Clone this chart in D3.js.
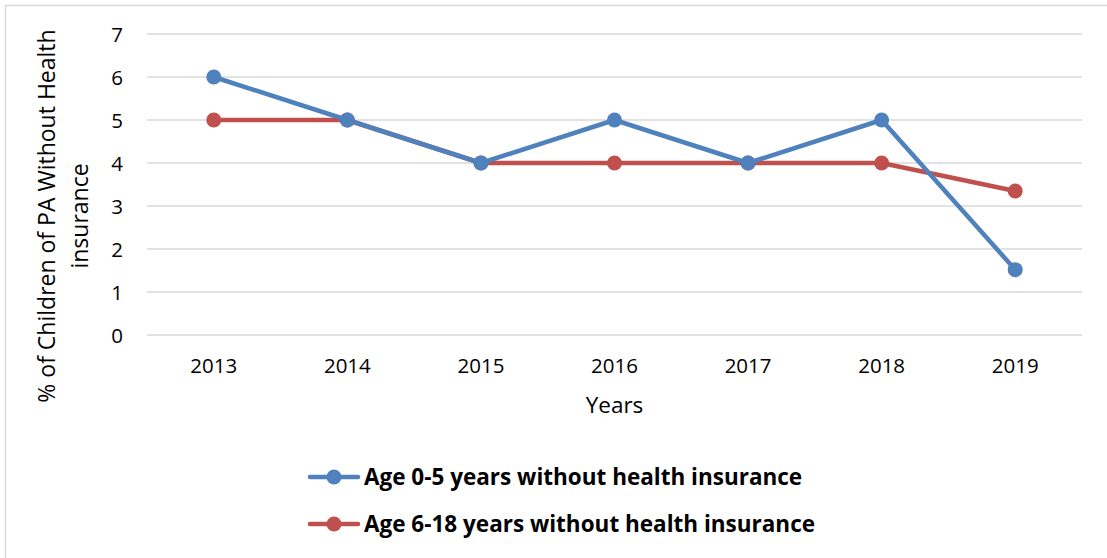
<!DOCTYPE html>
<html>
<head>
<meta charset="utf-8">
<script src="https://cdn.jsdelivr.net/npm/d3@7"></script>
<style>
  html, body { margin: 0; padding: 0; background: #fff; }
  svg { display: block; }
  text { font-family: "Open Sans", Lato, "Liberation Sans", sans-serif; fill: #000; }
</style>
</head>
<body>
<svg id="chart" width="1107" height="558"></svg>
<script>
// Uninsured children in Pennsylvania, by age group
const years = ["2013", "2014", "2015", "2016", "2017", "2018", "2019"];
const age0to5 = [6, 5, 4, 5, 4, 5, 1.52];
const age6to18 = [5, 5, 4, 4, 4, 4, 3.35];
const yTicks = [0, 1, 2, 3, 4, 5, 6, 7];
const seriesNames = ["Age 0-5 years without health insurance", "Age 6-18 years without health insurance"];
const seriesColors = ["#4f81bd", "#c0504d"];

const svg = d3.select("#chart");
const W = 1107, H = 558;
const FONT = "'Open Sans', Lato, sans-serif";

// outer frame
svg.append("rect")
  .attr("x", 5.5).attr("y", 5.5)
  .attr("width", W).attr("height", H)
  .attr("fill", "#fff").attr("stroke", "#d9d9d9").attr("stroke-width", 1.5);

const plot = { left: 147, right: 1082, top: 34, bottom: 335 };

const x = d3.scaleBand().domain(years).range([plot.left, plot.right]);
const y = d3.scaleLinear().domain([0, 7]).range([plot.bottom, plot.top]);

// horizontal gridlines
svg.append("g").selectAll("line").data(yTicks).join("line")
  .attr("x1", plot.left).attr("x2", plot.right)
  .attr("y1", d => y(d)).attr("y2", d => y(d))
  .attr("stroke", "#d9d9d9").attr("stroke-width", 1.5);

// y axis labels
const yAxis = svg.append("g")
  .attr("transform", `translate(${plot.left - 24},0)`)
  .call(d3.axisLeft(y).tickValues(yTicks).tickFormat(d3.format("d")).tickSize(0).tickPadding(0));
yAxis.select(".domain").remove();
yAxis.selectAll("text")
  .attr("font-size", 20.5).attr("text-anchor", "end").attr("dy", "0.35em")
  .style("font-family", FONT).attr("fill", "#000");

// x axis labels
const xAxis = svg.append("g")
  .attr("transform", `translate(0,${plot.bottom + 23})`)
  .call(d3.axisBottom(x).tickSize(0).tickPadding(0));
xAxis.select(".domain").remove();
xAxis.selectAll("text")
  .attr("font-size", 20.5).attr("dy", "0.71em")
  .style("font-family", FONT).attr("fill", "#000");

// axis titles
svg.append("text")
  .attr("x", (plot.left + plot.right) / 2).attr("y", 413)
  .attr("text-anchor", "middle").attr("font-size", 22.5)
  .text("Years");

const yTitle = svg.append("text")
  .attr("transform", "translate(55,216) rotate(-90)")
  .attr("text-anchor", "middle").attr("font-size", 23);
yTitle.append("tspan").attr("x", 0).attr("y", 0).text("% of Children of PA Without Health");
yTitle.append("tspan").attr("x", 0).attr("y", 33).text("insurance");

// series lines and markers
const cx = d => x(d) + x.bandwidth() / 2;
const series = [age0to5, age6to18];
const line = d3.line().x((d, i) => cx(years[i])).y(d => y(d));

[1, 0].forEach(s => {
  const g = svg.append("g");
  g.append("path")
    .attr("d", line(series[s]))
    .attr("fill", "none")
    .attr("stroke", seriesColors[s])
    .attr("stroke-width", 4.5)
    .attr("stroke-linejoin", "round");
  g.selectAll("circle").data(series[s]).join("circle")
    .attr("cx", (d, i) => cx(years[i]))
    .attr("cy", d => y(d))
    .attr("r", 7.5)
    .attr("fill", seriesColors[s]);
});

// legend
const legend = svg.append("g");
seriesNames.forEach((name, i) => {
  const ly = 477 + i * 47;
  legend.append("line")
    .attr("x1", 310).attr("x2", 358).attr("y1", ly).attr("y2", ly)
    .attr("stroke", seriesColors[i]).attr("stroke-width", 4.5)
    .attr("stroke-linecap", "round");
  legend.append("circle")
    .attr("cx", 334).attr("cy", ly).attr("r", 7.5)
    .attr("fill", seriesColors[i]);
  legend.append("text")
    .attr("x", 364).attr("y", ly).attr("dy", "0.36em")
    .attr("font-size", 22.5).attr("font-weight", "bold")
    .text(name);
});
</script>
</body>
</html>
